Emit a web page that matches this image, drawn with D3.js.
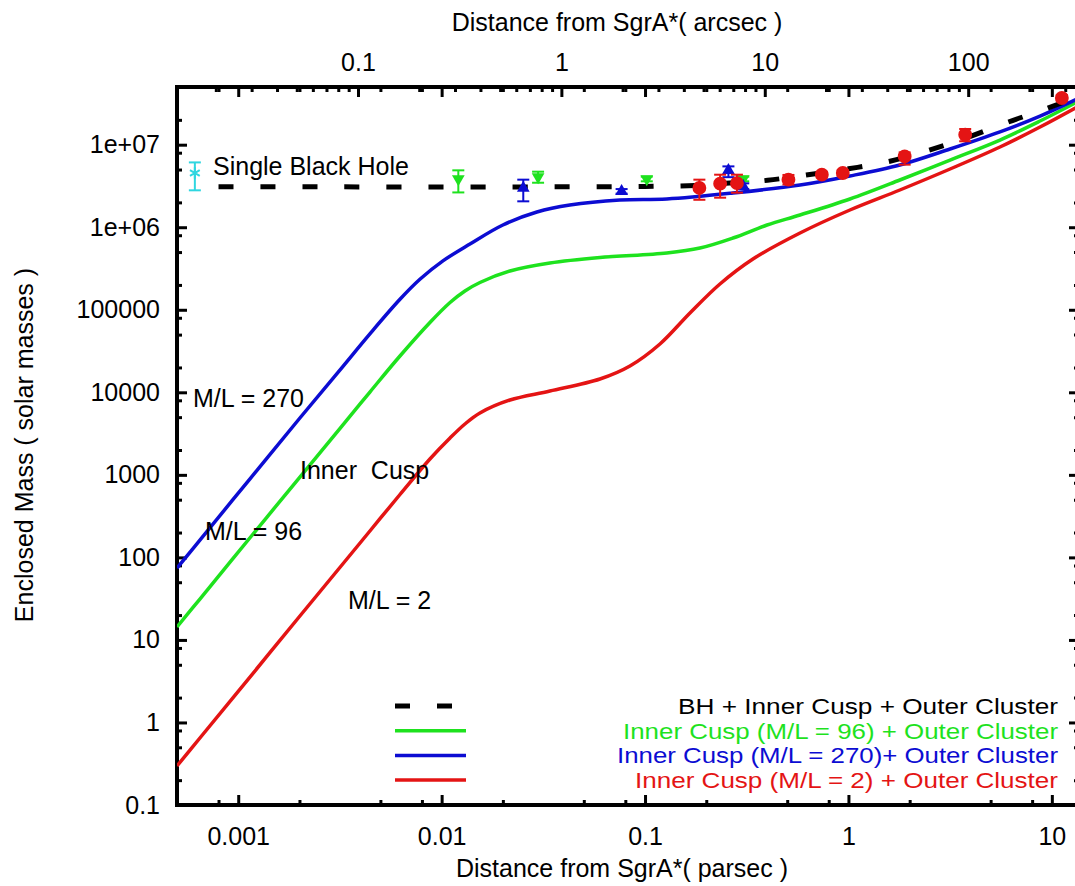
<!DOCTYPE html>
<html>
<head>
<meta charset="utf-8">
<script src="https://cdn.jsdelivr.net/npm/d3@7"></script>
<style>
  html, body { margin: 0; padding: 0; background: #fff; }
  svg text { font-family: "Liberation Sans", Arial, Helvetica, sans-serif; }
</style>
</head>
<body>
<div id="chart"></div>
<script>
// distances in parsec, masses in solar masses
const bhCuspOuter = [
  [0.0008, 3.1e6], [0.1, 3.12e6], [0.2, 3.25e6], [0.25, 3.4e6], [0.4, 3.7e6],
  [0.62, 4.3e6], [1.0, 5.1e6], [1.6, 6.3e6], [2.5, 8.6e6], [3.8, 1.21e7],
  [6.1, 1.88e7], [9.4, 2.73e7], [13.6, 3.9e7]
]
const cusp270 = [
  [0.0005, 74.3], [0.000648, 162], [0.00114, 890], [0.00201, 4883], [0.00316, 1.86e4],
  [0.00444, 5.11e4], [0.00624, 1.339e5], [0.00782, 2.34e5], [0.01015, 3.91e5],
  [0.01378, 6.26e5], [0.02, 1.064e6], [0.0294, 1.529e6], [0.0427, 1.859e6],
  [0.0752, 2.137e6], [0.128, 2.197e6], [0.2705, 2.597e6], [0.578, 3.247e6],
  [1.017, 4.18e6], [1.79, 5.68e6], [3.16, 8.87e6], [5.56, 1.43e7], [8.75, 2.22e7],
  [13.6, 3.67e7]
]
const cusp96 = [
  [0.0005, 14.34], [0.000648, 31.3], [0.00114, 171.7], [0.00201, 941], [0.00316, 3642],
  [0.00444, 1.008e4], [0.00624, 2.753e4], [0.00876, 7.01e4], [0.011, 1.224e5],
  [0.01302, 1.688e5], [0.01543, 2.139e5], [0.02167, 2.948e5], [0.03407, 3.686e5],
  [0.06003, 4.297e5], [0.128, 4.873e5], [0.1862, 5.602e5], [0.2705, 7.402e5],
  [0.398, 1.064e6], [0.578, 1.406e6], [1.017, 2.197e6], [1.79, 3.734e6],
  [3.16, 6.522e6], [5.56, 1.139e7], [8.75, 1.936e7], [13.6, 3.382e7]
]
const cusp2 = [
  [0.0005, 0.297], [0.000648, 0.648], [0.001, 2.378], [0.00201, 19.49], [0.00316, 75.4],
  [0.00444, 208.7], [0.00624, 577.9], [0.00876, 1556], [0.011, 2795], [0.01302, 4129],
  [0.01543, 5614], [0.02167, 8066], [0.03407, 1.037e4], [0.06003, 1.449e4],
  [0.0843, 2.083e4], [0.1184, 3.848e4], [0.1663, 9.136e4], [0.2335, 2.052e5],
  [0.3393, 4.121e5], [0.578, 8.51e5], [1.017, 1.617e6], [1.79, 2.825e6],
  [3.16, 5.074e6], [5.56, 9.374e6], [8.75, 1.638e7], [13.6, 2.942e7]
]

// measurements: [distance, mass, low, high]
const bhPoint = [[0.000612, 4.54e6, 2.8e6, 6.1e6]]
const greenPoints = [
  [0.01208, 3.84e6, 2.64e6, 4.89e6], [0.0298, 4.06e6, 3.46e6, 4.71e6],
  [0.102, 3.84e6, 3.6e6, 4.1e6], [0.304, 3.84e6, 3.6e6, 4.1e6]
]
const bluePoints = [
  [0.0252, 2.99e6, 2.06e6, 3.77e6], [0.0767, 2.72e6, 2.55e6, 2.9e6],
  [0.257, 4.88e6, 4.04e6, 5.46e6], [0.304, 3.13e6, 2.9e6, 3.4e6]
]
const redPoints = [
  [0.185, 2.99e6, 2.15e6, 3.77e6], [0.234, 3.37e6, 2.28e6, 4.33e6],
  [0.283, 3.42e6, 2.62e6, 4.33e6], [0.507, 3.77e6, 3.3e6, 4.3e6],
  [0.74, 4.33e6, 4.0e6, 4.7e6], [0.938, 4.54e6, 4.2e6, 4.9e6],
  [1.89, 7.2e6, 5.73e6, 8.07e6], [3.75, 1.32e7, 1.1e7, 1.55e7],
  [11.2, 3.68e7, 3.4e7, 4.0e7]
]

const xTicks = [0.001, 0.01, 0.1, 1, 10]
const xTickLabels = ['0.001', '0.01', '0.1', '1', '10']
const x2Ticks = [0.1, 1, 10, 100]
const x2TickLabels = ['0.1', '1', '10', '100']
const yTicks = [0.1, 1, 10, 100, 1000, 1e4, 1e5, 1e6, 1e7]
const yTickLabels = ['0.1', '1', '10', '100', '1000', '10000', '100000', '1e+06', '1e+07']

const legendLabels = [
  'BH + Inner Cusp + Outer Cluster',
  'Inner Cusp (M/L = 96) + Outer Cluster',
  'Inner Cusp (M/L = 270)+ Outer Cluster',
  'Inner Cusp (M/L = 2) + Outer Cluster'
]

const PC_PER_ARCSEC = 0.03879
const W = 1075, H = 886
const BLACK = '#000', GREEN = '#1ee21e', BLUE = '#0c0cd2', RED = '#e41414', CYAN = '#2fd6e0'

const x = d3.scaleLog().domain([0.0005, 13.6]).range([177, 1079])
const x2 = d3.scaleLog().domain(x.domain().map(d => d / PC_PER_ARCSEC)).range(x.range())
const y = d3.scaleLog().domain([0.1, 5e7]).range([805, 87])

const svg = d3.select('#chart')
  .append('svg')
  .attr('width', W)
  .attr('height', H)
  .style('background', '#fff')

function minors(scale, mults) {
  const [lo, hi] = scale.domain()
  const out = []
  for (let k = Math.floor(Math.log10(lo)); k <= Math.ceil(Math.log10(hi)); k++) {
    mults.forEach(m => {
      const v = m * Math.pow(10, k)
      if (v > lo && v < hi) out.push(v)
    })
  }
  return out
}

function axis(fn, scale, values, labels, size, pad, transform) {
  const g = svg.append('g').attr('transform', transform)
  g.call(fn(scale)
    .tickValues(values)
    .tickSizeInner(-size)
    .tickSizeOuter(0)
    .tickPadding(pad)
    .tickFormat(labels ? (d, i) => labels[i] : () => ''))
  g.select('.domain').remove()
  g.selectAll('line').attr('stroke', '#000').attr('stroke-width', 3)
  g.selectAll('text').attr('font-size', 25).attr('fill', '#000')
  return g
}

const [L, R] = x.range()
const [B, T] = y.range()

// bottom (parsec)
axis(d3.axisBottom, x, xTicks, xTickLabels, 10, 22, `translate(0,${B})`)
axis(d3.axisBottom, x, minors(x, [2, 5, 8]), null, 5, 0, `translate(0,${B})`)
// top: parsec mirror + arcsec
axis(d3.axisTop, x, xTicks, null, 10, 0, `translate(0,${T})`)
axis(d3.axisTop, x, minors(x, [2, 5, 8]), null, 5, 0, `translate(0,${T})`)
axis(d3.axisTop, x2, x2Ticks, x2TickLabels, 10, 16, `translate(0,${T})`)
axis(d3.axisTop, x2, minors(x2, [2, 3, 4, 5, 6, 7, 8, 9]), null, 5, 0, `translate(0,${T})`)
// left + right mirror
axis(d3.axisLeft, y, yTicks, yTickLabels, 10, 17, `translate(${L},0)`)
axis(d3.axisLeft, y, minors(y, [2, 5, 8]), null, 5, 0, `translate(${L},0)`)
axis(d3.axisRight, y, yTicks, null, 10, 0, `translate(${R},0)`)
axis(d3.axisRight, y, minors(y, [2, 5, 8]), null, 5, 0, `translate(${R},0)`)

svg.append('rect')
  .attr('x', L).attr('y', T)
  .attr('width', R - L).attr('height', B - T)
  .attr('fill', 'none').attr('stroke', '#000').attr('stroke-width', 4)

// axis titles
svg.append('text')
  .attr('x', 617).attr('y', 31)
  .attr('text-anchor', 'middle').attr('font-size', 25)
  .text('Distance from SgrA*( arcsec )')
svg.append('text')
  .attr('x', 622).attr('y', 877)
  .attr('text-anchor', 'middle').attr('font-size', 25)
  .text('Distance from SgrA*( parsec )')
svg.append('text')
  .attr('transform', 'translate(33,445) rotate(-90)')
  .attr('text-anchor', 'middle').attr('font-size', 25)
  .text('Enclosed Mass ( solar masses )')

// curves
svg.append('clipPath').attr('id', 'plot')
  .append('rect').attr('x', L).attr('y', T).attr('width', R - L).attr('height', B - T)

const plot = svg.append('g').attr('clip-path', 'url(#plot)')

const line = d3.line()
  .x(d => x(d[0]))
  .y(d => y(d[1]))
  .curve(d3.curveCatmullRom.alpha(0.5))

plot.append('path').datum(cusp2)
  .attr('d', line).attr('fill', 'none').attr('stroke', RED).attr('stroke-width', 3.5)
plot.append('path').datum(cusp96)
  .attr('d', line).attr('fill', 'none').attr('stroke', GREEN).attr('stroke-width', 3.5)
plot.append('path').datum(cusp270)
  .attr('d', line).attr('fill', 'none').attr('stroke', BLUE).attr('stroke-width', 3.5)
plot.append('path').datum(bhCuspOuter)
  .attr('d', line).attr('fill', 'none').attr('stroke', BLACK)
  .attr('stroke-width', 5).attr('stroke-dasharray', '15,27')

// error bars + markers
function errorBars(data, color) {
  const g = plot.append('g').attr('stroke', color).attr('stroke-width', 2)
  g.selectAll('.bar').data(data).enter().append('line')
    .attr('x1', d => x(d[0])).attr('x2', d => x(d[0]))
    .attr('y1', d => y(d[2])).attr('y2', d => y(d[3]))
  g.selectAll('.capLo').data(data).enter().append('line')
    .attr('x1', d => x(d[0]) - 6).attr('x2', d => x(d[0]) + 6)
    .attr('y1', d => y(d[2])).attr('y2', d => y(d[2]))
  g.selectAll('.capHi').data(data).enter().append('line')
    .attr('x1', d => x(d[0]) - 6).attr('x2', d => x(d[0]) + 6)
    .attr('y1', d => y(d[3])).attr('y2', d => y(d[3]))
}

function markers(data, color, type, size, rotate) {
  plot.append('g').selectAll('path').data(data).enter().append('path')
    .attr('d', d3.symbol().type(type).size(size))
    .attr('transform', d => `translate(${x(d[0])},${y(d[1])}) rotate(${rotate})`)
    .attr('fill', color)
}

errorBars(bhPoint, CYAN)
plot.append('g').selectAll('path').data(bhPoint).enter().append('path')
  .attr('d', d3.symbol().type(d3.symbolAsterisk).size(90))
  .attr('transform', d => `translate(${x(d[0])},${y(d[1])})`)
  .attr('fill', 'none').attr('stroke', CYAN).attr('stroke-width', 2)

errorBars(greenPoints, GREEN)
markers(greenPoints, GREEN, d3.symbolTriangle, 70, 180)
errorBars(bluePoints, BLUE)
markers(bluePoints, BLUE, d3.symbolTriangle, 70, 0)
errorBars(redPoints, RED)
markers(redPoints, RED, d3.symbolCircle, 150, 0)

// annotations
const notes = [
  ['Single Black Hole', 213, 175],
  ['M/L = 270', 193, 407],
  ['Inner  Cusp', 300, 479],
  ['M/L = 96', 205, 540],
  ['M/L = 2', 348, 609]
]
svg.append('g').selectAll('text').data(notes).enter().append('text')
  .attr('x', d => d[1]).attr('y', d => d[2])
  .attr('font-size', 25)
  .style('white-space', 'pre')
  .text(d => d[0])

// legend
const legendColors = [BLACK, GREEN, BLUE, RED]
const legendWidths = [380, 435, 441, 423]
const legend = svg.append('g')
legendLabels.forEach((label, i) => {
  const yy = 706 + i * 24.7
  legend.append('line')
    .attr('x1', 395).attr('x2', i === 0 ? 452 : 466)
    .attr('y1', yy).attr('y2', yy)
    .attr('stroke', legendColors[i])
    .attr('stroke-width', i === 0 ? 5 : 3.5)
    .attr('stroke-dasharray', i === 0 ? '15,27' : null)
  legend.append('text')
    .attr('x', 1058).attr('y', yy + 8)
    .attr('text-anchor', 'end')
    .attr('font-size', 22)
    .attr('textLength', legendWidths[i])
    .attr('lengthAdjust', 'spacingAndGlyphs')
    .attr('fill', legendColors[i])
    .text(label)
})
</script>
</body>
</html>
